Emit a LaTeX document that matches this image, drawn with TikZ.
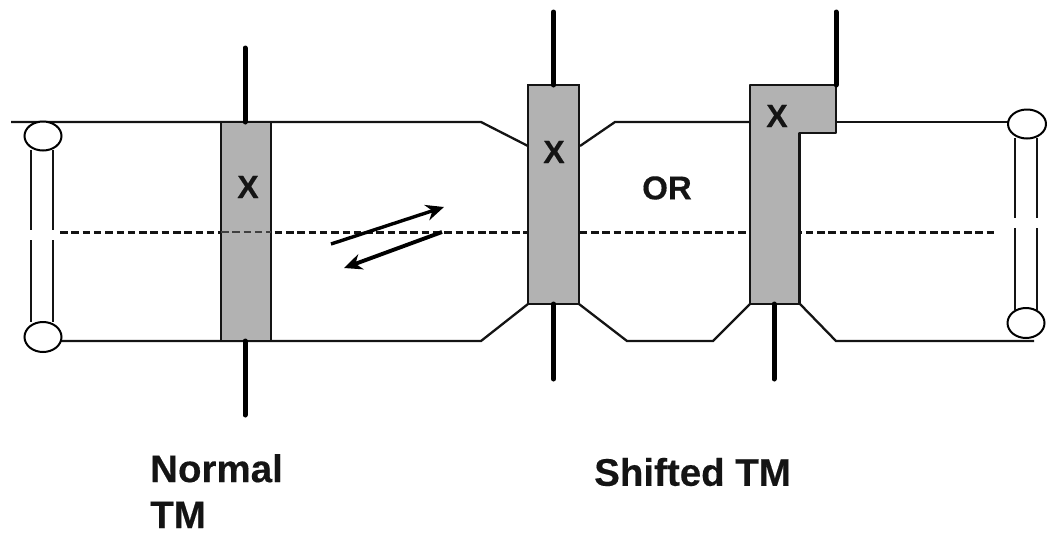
\documentclass[tikz,border=0pt]{standalone}
\usepackage{fontspec}
\setmainfont[BoldFeatures={FakeBold=0.35}]{Liberation Sans}
\usetikzlibrary{arrows.meta,shapes.geometric}
\definecolor{tmgray}{gray}{0.70}
\tikzset{
  mem/.style={line width=2.3pt,black!92},
  pin/.style={line width=5pt,line cap=round,black},
  tmbox/.style={draw=black!92,line width=2.3pt,fill=tmgray,outer sep=0pt},
  head/.style={draw=black,line width=2pt,fill=white,ellipse,inner sep=0pt},
  core/.style={line width=3pt,dash pattern=on 7.5pt off 3.8pt,black!92},
  move/.style={line width=3.4pt,-{Stealth[length=18pt,width=16pt]}},
  lab/.style={inner sep=0pt,text=black!92},
}
\begin{document}
\begin{tikzpicture}[x=1pt,y=-1pt]
\useasboundingbox (0,0) rectangle (1047,536);
\coordinate (coreL) at (60,232);
\coordinate (coreR) at (994,232);
\coordinate (a0) at (11,122);
\coordinate (a1) at (481,122);
\coordinate (a2) at (528,146);
\coordinate (a3) at (580,146);
\coordinate (a4) at (615,122);
\coordinate (a5) at (750,122);
\coordinate (a6) at (836,122);
\coordinate (a7) at (1008,122);
\coordinate (b0) at (57,341);
\coordinate (b1) at (481,341);
\coordinate (b2) at (528,304);
\coordinate (b3) at (579,304);
\coordinate (b4) at (627,341);
\coordinate (b5) at (713,341);
\coordinate (b6) at (750,304);
\coordinate (b7) at (800,304);
\coordinate (b8) at (836,341);
\coordinate (b9) at (1034,341);
\draw[core] (coreL) -- (coreR);
\draw[mem] (a0) -- (a1) -- (a2);
\draw[mem] (a3) -- (a4) -- (a5);
\draw[mem] (a6) -- (a7);
\draw[mem] (b0) -- (b1) -- (b2);
\draw[mem] (b3) -- (b4) -- (b5) -- (b6);
\draw[mem] (b7) -- (b8) -- (b9);
\node[tmbox,minimum width=50pt,minimum height=219pt,inner sep=0pt,anchor=north west] (tmA) at (221,122) {};
\draw[core,black!75,line width=1.6pt] (221,232) -- (271,232);
\node[tmbox,minimum width=51pt,minimum height=219pt,inner sep=0pt,anchor=north west] (tmB) at (528,85) {};
\draw[tmbox,line join=round] (750,85) -- (836,85) -- (836,133) -- (799.5,133) -- (799.5,304) -- (750,304) -- cycle;
\coordinate (tmCtop) at (836,85);
\coordinate (tmCbot) at (774,304);
\coordinate (pA1) at (245,48);
\coordinate (pA2) at (245,415);
\coordinate (pB1) at (553.5,12);
\coordinate (pB2) at (553.5,379);
\coordinate (pC1) at (836,12);
\coordinate (pC2) at (774,379);
\draw[pin] (pA1) -- (pA1 |- tmA.north);
\draw[pin] (pA2 |- tmA.south) -- (pA2);
\draw[pin] (pB1) -- (pB1 |- tmB.north);
\draw[pin] (pB2 |- tmB.south) -- (pB2);
\draw[pin] (pC1) -- (tmCtop);
\draw[pin] (tmCbot) -- (pC2);
\node[head,minimum width=37pt,minimum height=29pt] (hL1) at (43,136) {};
\node[head,minimum width=37pt,minimum height=30pt] (hL2) at (43,337) {};
\node[head,minimum width=38pt,minimum height=29pt] (hR1) at (1027,124) {};
\node[head,minimum width=37pt,minimum height=30pt] (hR2) at (1026,323) {};
\foreach \x in {31,53} {
  \draw[mem] (\x,150) -- (\x,230);
  \draw[mem] (\x,240) -- (\x,322);
}
\foreach \x in {1015,1037} {
  \draw[mem] (\x,138) -- (\x,218);
  \draw[mem] (\x,228) -- (\x,310);
}
\coordinate (m1) at (331,244);
\coordinate (m2) at (444,207);
\coordinate (m3) at (442,232);
\coordinate (m4) at (344,268);
\draw[move] (m1) -- (m2);
\draw[move,line width=3.9pt] (m3) -- (m4);
\node[lab,font=\bfseries\fontsize{32}{36}\selectfont] (x1) at (248,187) {X};
\node[lab,font=\bfseries\fontsize{32}{36}\selectfont] (x2) at (554,152) {X};
\node[lab,font=\bfseries\fontsize{32}{36}\selectfont] (x3) at (777,116) {X};
\node[lab,font=\bfseries\fontsize{33}{38}\selectfont] (or) at (667,188) {OR};
\node[lab,font=\bfseries\fontsize{38.5}{46}\selectfont,align=left,anchor=north west] (nl) at (150,454) {Normal\\TM};
\node[lab,font=\bfseries\fontsize{38.5}{47}\selectfont,anchor=west] (sl) at (594,472) {Shifted TM};
\end{tikzpicture}
\end{document}
